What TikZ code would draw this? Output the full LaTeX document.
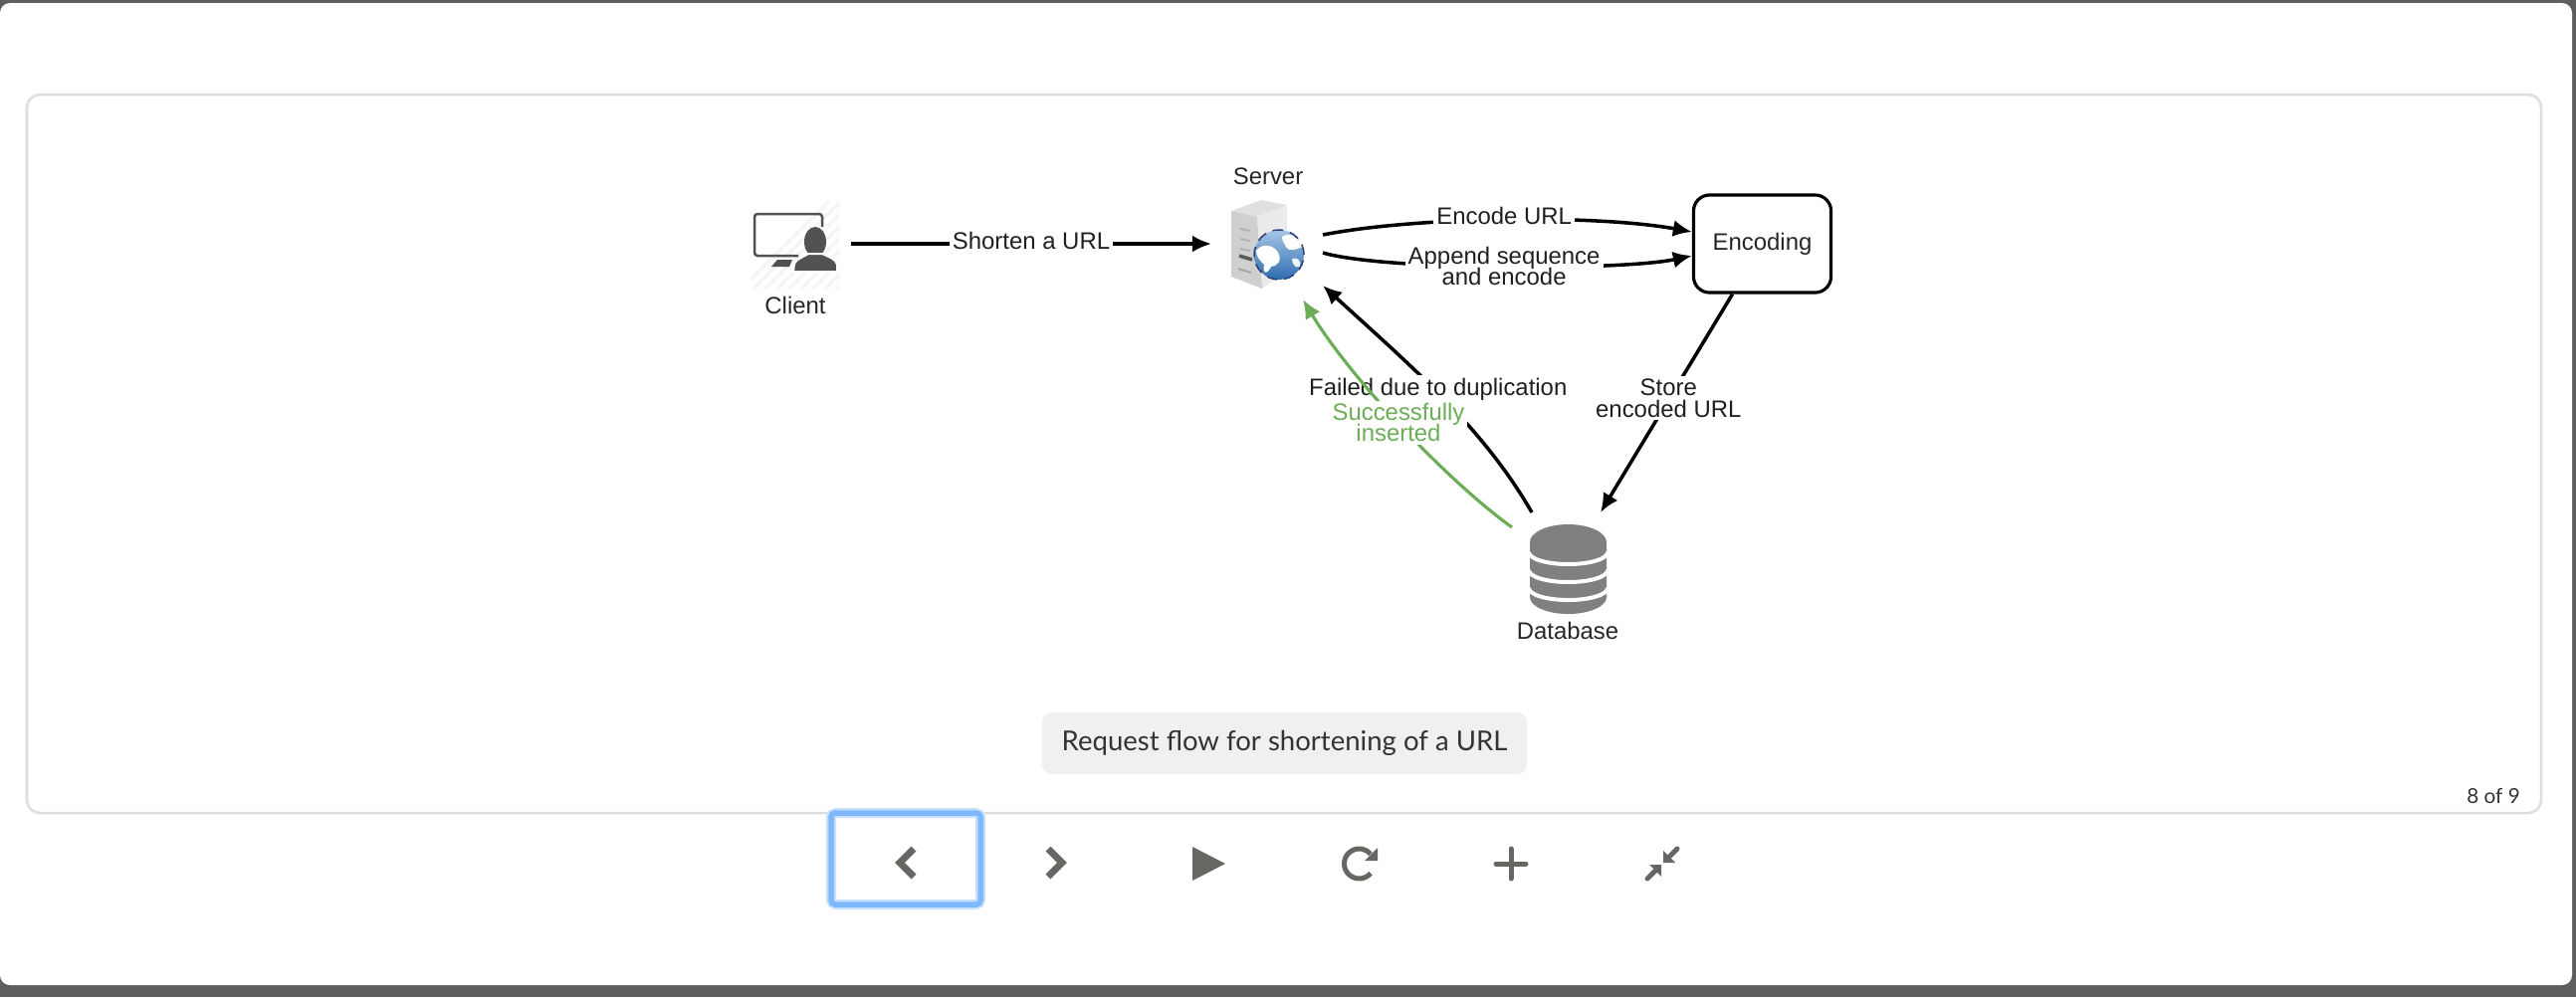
\documentclass[tikz,border=0pt]{standalone}
\usepackage{fontspec}
\usetikzlibrary{arrows.meta}
\setmainfont{Liberation Sans}
\newfontfamily\uifont{Lato}
\definecolor{okgreen}{HTML}{6CAD57}
\definecolor{icongray}{HTML}{666662}
\definecolor{focusblue}{HTML}{7FB9FB}
\definecolor{globetop}{HTML}{A6C6E6}
\definecolor{globelow}{HTML}{2F6CAE}
\definecolor{globeline}{HTML}{2B3F78}
\setlength{\lineskiplimit}{-5pt}
\setlength{\normallineskiplimit}{-5pt}
\tikzset{
  lab/.style={fill=white,inner sep=0.03cm,align=center,text=black!88,font=\fontsize{6.8}{6}\selectfont},
  txt/.style={inner sep=0,text=black!85,font=\fontsize{6.8}{6}\selectfont},
  spot/.style={inner sep=0,minimum width=#1},
  link/.style={>={Latex[length=0.19cm,width=0.17cm]},->,line width=1pt,black},
  dbstripe/.style={white,line width=0.04cm},
  btn/.style={icongray,line width=0.05cm,line cap=round}
}
\begin{document}
\begin{tikzpicture}[x=0.01cm,y=-0.01cm]
\useasboundingbox (0,0) rectangle (2588,1002);
\fill [color=black!63] (0,0) rectangle (2588,1002);
\fill [white,rounded corners=0.1cm] (0,3) rectangle (2584,990);
\draw [black!13,line width=0.025cm,rounded corners=0.13cm] (27,95) rectangle (2553,817);

% client icon
\node (client) at (799,245) [spot=0.88cm,minimum height=0.88cm,outer sep=0.12cm] {};
\begin{scope}
\clip (755,202) rectangle (843,290);
\foreach \d in {0,12,...,180}
  \draw [black!4,line width=0.035cm] (745+\d,290) -- (845+\d,190);
\end{scope}
\draw [black!68,line width=0.025cm,rounded corners=0.03cm] (826,228) -- (826,215) -- (758,215) -- (758,257) -- (802,257);
\fill [black!68] (781,261) -- (796,261) -- (793,268) -- (775,268) -- cycle;
\fill [black!68] (819,243) ellipse (11 and 15);
\fill [black!68,draw=white,line width=0.02cm] (797,273) -- (798,265) .. controls (800,260) and (808,258) .. (812,255) -- (826,255) .. controls (832,258) and (840,260) .. (841,266) -- (841,273) -- cycle;
\node (clienttxt) at (799,307) [txt] {Client};

% server icon
\node (server) at (1273,245) [spot=0.75cm,minimum height=0.89cm,outer sep=0.185cm] {};
\fill [black!12] (1237,212) -- (1267,201) -- (1293,206) -- (1263,218) -- cycle;
\fill [black!8] (1263,218) -- (1293,206) -- (1293,272) -- (1268,290) -- cycle;
\fill [black!19] (1237,212) -- (1263,218) -- (1268,290) -- (1237,278) -- cycle;
\foreach \h in {225,235,245}
  \draw [black!30,line width=0.02cm] (1246,\h+5) -- (1256,\h+7);
\draw [black!65,line width=0.035cm] (1245,257) -- (1258,261);
\draw [black!35,line width=0.02cm] (1244,270) -- (1257,274);
\shade [top color=globetop,bottom color=globelow] (1285,256) circle (0.25cm);
\begin{scope}
\clip (1285,256) circle (0.25cm);
\fill [white] (1262,252) .. controls (1268,244) and (1278,246) .. (1283,252) .. controls (1290,262) and (1282,268) .. (1277,268) .. controls (1272,278) and (1268,274) .. (1270,266) .. controls (1266,262) and (1262,258) .. cycle;
\fill [white] (1288,238) .. controls (1296,232) and (1306,240) .. (1310,248) .. controls (1302,250) and (1296,254) .. (1292,248) .. controls (1290,244) and (1288,242) .. cycle;
\fill [white!80!globetop] (1298,260) .. controls (1303,258) and (1308,262) .. (1306,268) .. controls (1302,270) and (1298,266) .. cycle;
\end{scope}
\draw [globeline,line width=0.015cm,densely dashed] (1285,256) circle (0.25cm);
\node (servertxt) at (1274,177) [txt] {Server};

% encoding box
\node (encoding) at (1770.5,245) [draw,rounded corners=0.16cm,line width=0.9pt,minimum width=1.38cm,minimum height=0.98cm,txt,text=black!85] {Encoding};

% database icon
\node (db) at (1575,572) [spot=0.77cm,minimum height=0.9cm,outer sep=0.12cm] {};
\fill [black!50] (1537,545) -- (1537,600) arc [start angle=180,end angle=360,x radius=0.385cm,y radius=0.17cm] -- (1614,545) arc [start angle=0,end angle=180,x radius=0.385cm,y radius=0.18cm] -- cycle;
\foreach \h in {555,573,591}
  \draw [dbstripe] (1536,\h) arc [start angle=180,end angle=360,x radius=0.395cm,y radius=0.12cm];
\node (dbtxt) at (1575,634) [txt] {Database};

% connectors
\draw [link] (client.east) -- (server.west) node[lab,midway,yshift=0.03cm] (shortenlab) {Shorten a URL};
\draw [link] ([yshift=0.09cm]server.east) .. controls (1420,218) and (1600,215) .. ([yshift=0.12cm]encoding.west) node[lab,pos=0.5,yshift=0.04cm] (encodelab) {Encode URL};
\draw [link] ([yshift=-0.09cm]server.east) .. controls (1390,272) and (1630,272) .. ([yshift=-0.12cm]encoding.west) node[lab,pos=0.5] (appendlab) {Append sequence\\and encode};
\draw [link] ([xshift=-0.3cm]encoding.south) -- ([xshift=0.33cm]db.north) node[lab,pos=0.5,xshift=0.02cm,yshift=0.05cm] (storelab) {Store\\encoded URL};
\draw [link] ([xshift=-0.36cm]db.north) .. controls (1490,430) and (1420,370) .. ([yshift=-0.42cm]server.east) node[lab,pos=0.5,xshift=-0.05cm,yshift=0.09cm] (failedlab) {Failed due to duplication};
\draw [link,okgreen,line width=0.9pt] ([xshift=-0.56cm,yshift=-0.15cm]db.north) .. controls (1450,480) and (1354,376) .. ([xshift=0.36cm,yshift=0.07cm]server.south) node[lab,pos=0.5,text=okgreen] (insertedlab) {Successfully\\inserted};

% caption and counter
\node (caption) at (1290.5,747) [fill=black!6,rounded corners=0.1cm,minimum width=4.87cm,minimum height=0.62cm,inner sep=0,text=black!80,font=\uifont\fontsize{7.83}{9}\selectfont] {\raisebox{-0.02cm}{Request flow for shortening of a URL}};
\node (counter) at (2505,800) [inner sep=0,text=black!80,font=\uifont\fontsize{5.9}{8}\selectfont] {8 of 9};

% buttons
\draw [focusblue!45,line width=0.1cm,rounded corners=0.05cm] (835,817) rectangle (985,909);
\draw [focusblue,line width=0.055cm,rounded corners=0.04cm] (835,817) rectangle (985,909);
\draw [icongray,line width=0.07cm] (918,853) -- (904,867) -- (918,881);
\draw [icongray,line width=0.07cm] (1053,853) -- (1067,867) -- (1053,881);
\fill [icongray] (1198,851) -- (1231,868) -- (1198,885) -- cycle;
\draw [btn,line cap=butt,line width=0.05cm] (1377,877.6) arc [start angle=-40,end angle=-320,radius=0.15cm];
\fill [icongray] (1384,852) -- (1384,865) -- (1371,865) -- cycle;
\draw [btn] (1518,853) -- (1518,883);
\draw [btn] (1503,868) -- (1533,868);
\fill [icongray] (1671,867) -- (1671,855) -- (1683,867) -- cycle;
\fill [icongray] (1669,869) -- (1657,869) -- (1669,881) -- cycle;
\draw [btn] (1685,853) -- (1676,862);
\draw [btn] (1655,883) -- (1664,874);
\end{tikzpicture}
\end{document}
